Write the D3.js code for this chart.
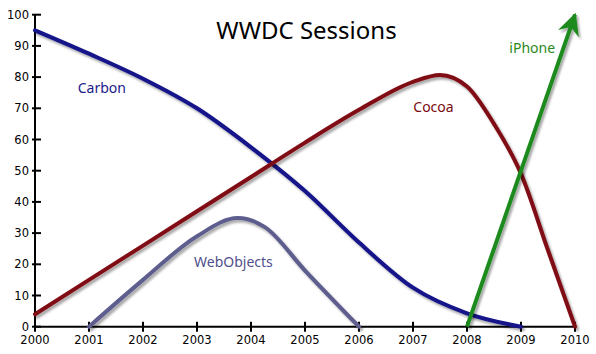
<!DOCTYPE html>
<html>
<head>
<meta charset="utf-8">
<script src="https://cdn.jsdelivr.net/npm/d3@7"></script>
<style>
  html, body { margin: 0; padding: 0; background: #fff; }
  svg { display: block; }
</style>
</head>
<body>
<svg id="chart" width="596" height="354"></svg>
<script>
// ---- data ----
const xTicks = [2000, 2001, 2002, 2003, 2004, 2005, 2006, 2007, 2008, 2009, 2010];
const yTicks = [0, 10, 20, 30, 40, 50, 60, 70, 80, 90, 100];

const carbonYears  = [2000, 2001, 2002, 2003, 2004, 2005, 2006, 2007, 2008, 2009];
const carbonValues = [95, 87.5, 79.5, 70, 57.5, 43.5, 27, 12.5, 4.3, 0];

const cocoaYears  = [2000, 2001, 2002, 2003, 2004, 2005, 2006, 2007, 2007.5, 2008, 2008.5, 2009, 2009.5, 2010];
const cocoaValues = [4, 15, 26, 37, 48, 59, 69.5, 78.5, 80.7, 77, 65, 49, 24.5, 0];

const webObjectsYears  = [2001, 2002, 2003, 2003.75, 2004.25, 2005, 2006];
const webObjectsValues = [0, 15, 29, 34.8, 32, 18, 0];

const iphoneYears  = [2008, 2010];
const iphoneValues = [0, 100];

const titleText = "WWDC Sessions";

// ---- scales ----
const svg = d3.select("#chart");
const x = d3.scaleLinear().domain([2000, 2010]).range([35, 575]);
const y = d3.scaleLinear().domain([0, 100]).range([326.7, 14.7]);

const defs = svg.append("defs");
const f = defs.append("filter").attr("id", "shadow")
  .attr("x", "-20%").attr("y", "-20%").attr("width", "140%").attr("height", "140%");
f.append("feDropShadow").attr("dx", 2).attr("dy", 2.5)
  .attr("stdDeviation", 1.3).attr("flood-color", "#000").attr("flood-opacity", 0.35);

defs.append("marker").attr("id", "arrow")
  .attr("markerUnits", "userSpaceOnUse")
  .attr("viewBox", "-2 -13 26 26")
  .attr("markerWidth", 26).attr("markerHeight", 26)
  .attr("refX", 20).attr("refY", 0)
  .attr("orient", "auto")
  .append("path")
  .attr("d", "M0,-11 L22,0 L0,11 L7,0 Z")
  .attr("fill", "#1b8a1b");

// ---- axes ----
const axes = svg.append("g");
axes.append("line").attr("x1", x(2000)).attr("x2", x(2000))
  .attr("y1", y(100)).attr("y2", y(0)).attr("stroke", "#000").attr("stroke-width", 2);
axes.append("line").attr("x1", x(2000)).attr("x2", x(2010))
  .attr("y1", y(0)).attr("y2", y(0)).attr("stroke", "#000").attr("stroke-width", 2);

axes.selectAll(".yt").data(yTicks).join("line")
  .attr("x1", x(2000) - 3).attr("x2", x(2000) + 6)
  .attr("y1", d => y(d)).attr("y2", d => y(d))
  .attr("stroke", "#000").attr("stroke-width", 2);
axes.selectAll(".xt").data(xTicks).join("line")
  .attr("x1", d => x(d)).attr("x2", d => x(d))
  .attr("y1", y(0) - 5).attr("y2", y(0) + 5)
  .attr("stroke", "#000").attr("stroke-width", 2);

axes.selectAll(".yl").data(yTicks).join("text")
  .attr("x", x(2000) - 6).attr("y", d => y(d)).attr("dy", "0.36em")
  .attr("text-anchor", "end")
  .attr("font-family", "DejaVu Sans").attr("font-size", 11.5).attr("fill", "#000")
  .text(d => d);
axes.selectAll(".xl").data(xTicks).join("text")
  .attr("x", d => x(d)).attr("y", 343.5)
  .attr("text-anchor", "middle")
  .attr("font-family", "DejaVu Sans").attr("font-size", 11.5).attr("fill", "#000")
  .text(d => d);

// ---- title ----
svg.append("text").attr("x", 306.5).attr("y", 39)
  .attr("text-anchor", "middle")
  .attr("font-family", "Noto Sans").attr("font-size", 24).attr("fill", "#000")
  .text(titleText);

// ---- series ----
const mk = (years, vals) => years.map((yr, i) => [yr, vals[i]]);
const line = d3.line().x(d => x(d[0])).y(d => y(d[1])).curve(d3.curveMonotoneX);
const straight = d3.line().x(d => x(d[0])).y(d => y(d[1]));

const series = svg.append("g").attr("fill", "none").attr("stroke-width", 4)
  .attr("stroke-linecap", "round").attr("stroke-linejoin", "round");

series.append("path").attr("d", line(mk(carbonYears, carbonValues)))
  .attr("stroke", "#12128a").attr("filter", "url(#shadow)");
series.append("path").attr("d", line(mk(webObjectsYears, webObjectsValues)))
  .attr("stroke", "#5d5d8e").attr("filter", "url(#shadow)");
series.append("path").attr("d", line(mk(cocoaYears, cocoaValues)))
  .attr("stroke", "#800a12").attr("filter", "url(#shadow)");
series.append("path").attr("d", straight(mk(iphoneYears, iphoneValues)))
  .attr("stroke", "#1b8a1b").attr("stroke-linecap", "butt")
  .attr("marker-end", "url(#arrow)").attr("filter", "url(#shadow)");

// ---- labels ----
const labels = [
  { t: "Carbon", x: 77.7, y: 92.7, c: "#1a1a8c" },
  { t: "Cocoa", x: 413.3, y: 112, c: "#7a0a10" },
  { t: "iPhone", x: 509.3, y: 53.3, c: "#2a8a1a" },
  { t: "WebObjects", x: 194, y: 266.7, c: "#50508c" }
];
svg.append("g").selectAll("text").data(labels).join("text")
  .attr("x", d => d.x).attr("y", d => d.y)
  .attr("font-family", "Noto Sans").attr("font-size", 14)
  .attr("fill", d => d.c).text(d => d.t);
</script>
</body>
</html>
